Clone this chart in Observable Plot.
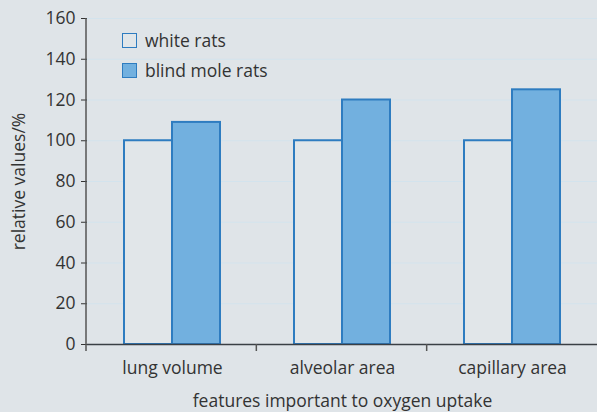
<!DOCTYPE html>
<html><head><meta charset="utf-8">
<script src="https://cdn.jsdelivr.net/npm/d3@7"></script>
<script src="https://cdn.jsdelivr.net/npm/@observablehq/plot@0.6"></script>
<style>
body{margin:0;background:#dfe4e8;}
#wrap{position:relative;width:597px;height:412px;font-family:"Open Sans",sans-serif;color:#333;}
#legend{position:absolute;left:122px;top:25px;font-size:17.5px;line-height:30px;}
#legend .item{display:flex;align-items:center;}
#legend .sw{width:13px;height:13px;border:1.5px solid #2e7cc0;margin-right:8px;}
</style>
</head><body>
<div id="wrap"><div id="legend"></div></div>
<script>
const features = ["lung volume", "alveolar area", "capillary area"];
const groups = ["white rats", "blind mole rats"];
const whiteRats = [100, 100, 100];
const blindMoleRats = [109, 120, 125];
const yTicks = [0, 20, 40, 60, 80, 100, 120, 140, 160];
const fills = ["#e1e6e9", "#72b0df"];

const data = [];
features.forEach((f, i) => {
  data.push({feature: f, group: groups[0], value: whiteRats[i]});
  data.push({feature: f, group: groups[1], value: blindMoleRats[i]});
});

const chart = Plot.plot({
  width: 597, height: 412,
  marginLeft: 86, marginRight: 0, marginTop: 18, marginBottom: 68,
  style: {background: "transparent", fontFamily: "'Open Sans', sans-serif", fontSize: "17.5px", color: "#333"},
  fx: {domain: features, padding: 0, axis: "bottom", tickSize: 0, tickPadding: 17,
       label: "features important to oxygen uptake", labelAnchor: "center", labelOffset: 62},
  x: {domain: groups, paddingInner: 0, paddingOuter: 0.745, axis: null},
  y: {domain: [0, 160], ticks: yTicks, tickSize: 6, tickPadding: 6,
      label: "relative values/%", labelAnchor: "center", labelOffset: 75, labelArrow: "none"},
  color: {domain: groups, range: fills},
  marks: [
    Plot.gridY(yTicks, {stroke: "#d3e3ed", strokeOpacity: 1}),
    Plot.barY(data, {fx: "feature", x: "group", y: "value", fill: "group", stroke: "#2e7cc0", strokeWidth: 2}),
    Plot.ruleY([0], {stroke: "#3a3f44", strokeWidth: 1.5})
  ]
});

// axis lines & group separator ticks from the plot's own scales
const fxs = chart.scale("fx");
const band = d3.scaleBand(fxs.domain, fxs.range).paddingInner(fxs.paddingInner || 0).paddingOuter(fxs.paddingOuter || 0).align(fxs.align ?? 0.5);
const ys = chart.scale("y");
const y = d3.scaleLinear(ys.domain, ys.range);
const svg = d3.select(chart);
const g = svg.append("g");
g.append("line").attr("x1", band(features[0])).attr("x2", band(features[0]))
  .attr("y1", y(160)).attr("y2", y(0) + 7).attr("stroke", "#555").attr("stroke-width", 1.5);
features.slice(0, -1).forEach(f => {
  const xx = band(f) + band.bandwidth();
  g.append("line").attr("x1", xx).attr("x2", xx).attr("y1", y(0)).attr("y2", y(0) + 7)
    .attr("stroke", "#555").attr("stroke-width", 1.5);
});

document.getElementById("wrap").prepend(chart);

const legend = d3.select("#legend");
groups.forEach((name, i) => {
  const it = legend.append("div").attr("class", "item");
  it.append("div").attr("class", "sw").style("background", fills[i]);
  it.append("span").text(name);
});
</script>
</body></html>
